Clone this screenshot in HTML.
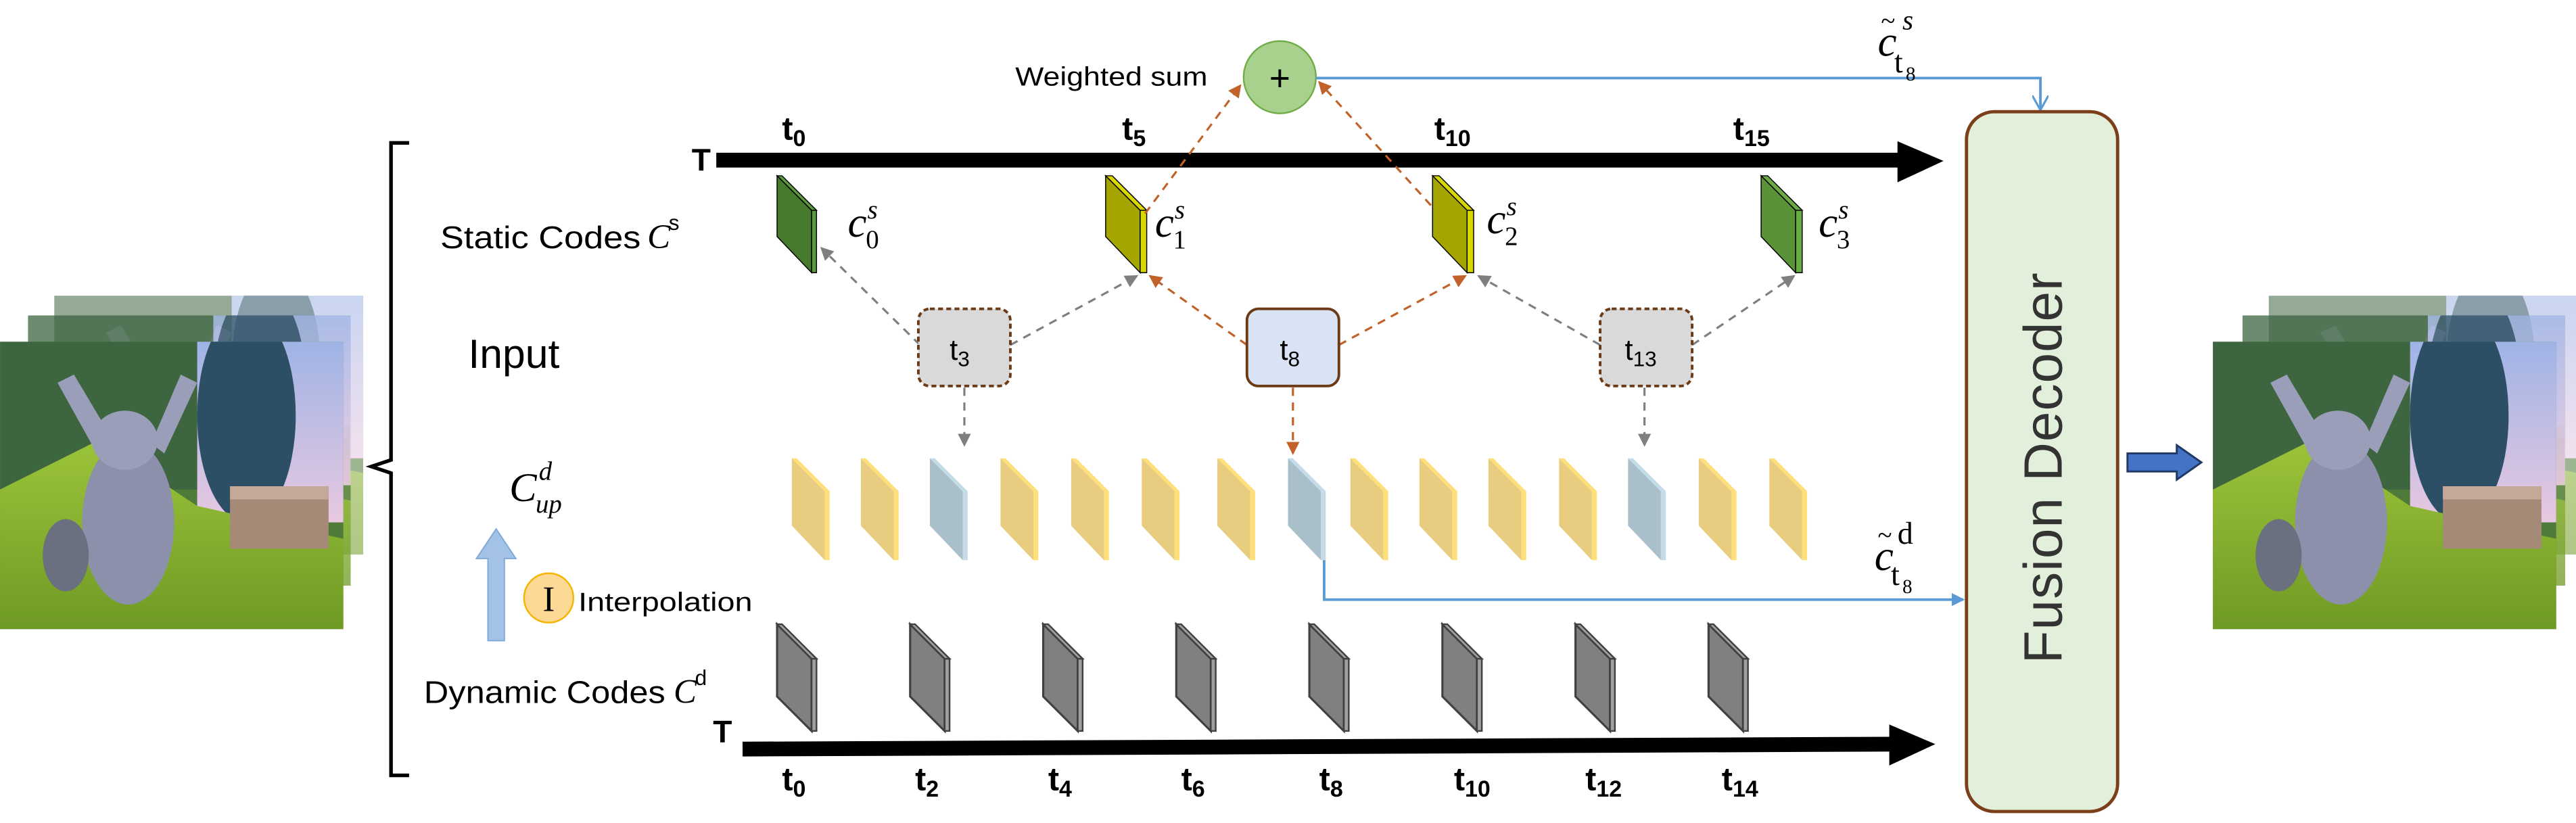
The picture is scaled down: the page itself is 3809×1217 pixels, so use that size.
<!DOCTYPE html>
<html><head><meta charset="utf-8"><style>
html,body{margin:0;padding:0;background:#fff;}
svg{display:block;}
.lab{font-family:"Liberation Sans Narrow","Liberation Sans",sans-serif;fill:#000;}
.tb{font-family:"Liberation Sans Narrow","Liberation Sans",sans-serif;font-weight:bold;fill:#000;}
.m{font-family:"Liberation Serif","DejaVu Serif",serif;fill:#000;}
</style></head><body>
<svg width="3809" height="1217" viewBox="0 0 1568 501" xmlns="http://www.w3.org/2000/svg">
<defs>
<marker id="ag" markerWidth="8" markerHeight="8" refX="7" refY="4" orient="auto" markerUnits="userSpaceOnUse"><path d="M0,0 L8,4 L0,8 z" fill="#7f7f7f"/></marker>
<marker id="ao" markerWidth="8" markerHeight="8" refX="7" refY="4" orient="auto" markerUnits="userSpaceOnUse"><path d="M0,0 L8,4 L0,8 z" fill="#c0622a"/></marker>
<marker id="ab" markerWidth="10" markerHeight="10" refX="9" refY="5" orient="auto" markerUnits="userSpaceOnUse"><path d="M0,0 L9,5 L0,10" fill="none" stroke="#5b9bd5" stroke-width="1.3"/></marker>
<marker id="abf" markerWidth="8" markerHeight="8" refX="7" refY="4" orient="auto" markerUnits="userSpaceOnUse"><path d="M0,0 L8,4 L0,8 z" fill="#5b9bd5"/></marker>
<linearGradient id="sky" x1="0" y1="0" x2="0" y2="1"><stop offset="0" stop-color="#9fb4e6"/><stop offset="1" stop-color="#e8c8e0"/></linearGradient>
<linearGradient id="grass" x1="0" y1="0" x2="0" y2="1"><stop offset="0" stop-color="#9cc43a"/><stop offset="1" stop-color="#6f9a24"/></linearGradient>
<clipPath id="fc"><rect x="0" y="0" width="209" height="175"/></clipPath>
<g id="frame" clip-path="url(#fc)">
<rect width="209" height="175" fill="#4f7a3a"/>
<rect x="120" y="0" width="89" height="110" fill="url(#sky)"/>
<rect x="0" y="0" width="120" height="90" fill="#3d6540"/>
<ellipse cx="150" cy="45" rx="30" ry="65" fill="#2c4f66"/>
<polygon points="0,90 60,60 120,100 209,120 209,175 0,175" fill="url(#grass)"/>
<rect x="140" y="88" width="60" height="38" fill="#a58a78"/>
<rect x="140" y="88" width="60" height="8" fill="#c4a898"/>
<ellipse cx="78" cy="110" rx="28" ry="50" fill="#8c90aa"/>
<ellipse cx="76" cy="60" rx="20" ry="18" fill="#9a9eb8"/>
<path d="M60,70 L35,25 L45,20 L70,62 Z" fill="#9a9eb8"/>
<path d="M92,62 L110,20 L120,25 L100,68 Z" fill="#9a9eb8"/>
<ellipse cx="40" cy="130" rx="14" ry="22" fill="#6a7080"/>
</g>
<g id="cup"><polygon points="0,0 20,20 20,62 0,41" fill="#e8cc80"/><polygon points="20,20 23,20 23,62 20,62" fill="#ffdf7a"/><polygon points="0,0 3,0 23,20 20,20" fill="#ffdf7a"/></g>
<g id="cupb"><polygon points="0,0 20,20 20,62 0,41" fill="#a9c0cb"/><polygon points="20,20 23,20 23,62 20,62" fill="#c5dce8"/><polygon points="0,0 3,0 23,20 20,20" fill="#c5dce8"/></g>
<g id="dyn"><polygon points="0,0 21,21 21,65 0,44" fill="#808080" stroke="#404040" stroke-width="1.3"/><polygon points="21,21 24,21 24,65 21,65" fill="#a0a0a0" stroke="#404040" stroke-width="1"/><polygon points="0,0 3,0 24,21 21,21" fill="#a0a0a0" stroke="#404040" stroke-width="1"/></g>
</defs>

<g opacity="0.55"><use href="#frame" transform="translate(33,180) scale(0.9,0.9)"/></g>
<g opacity="0.75"><use href="#frame" transform="translate(17,192) scale(0.94,0.94)"/></g>
<use href="#frame" x="0" y="208"/>
<g opacity="0.55"><use href="#frame" transform="translate(1381,180) scale(0.9,0.9)"/></g>
<g opacity="0.75"><use href="#frame" transform="translate(1365,192) scale(0.94,0.94)"/></g>
<use href="#frame" x="1347" y="208"/>

<path d="M249,87 L238,87 L238,280 L226,284 L238,288 L238,472 L249,472" fill="none" stroke="#000" stroke-width="2.2"/>

<text class="lab" x="268" y="151" font-size="19" textLength="122" lengthAdjust="spacingAndGlyphs">Static Codes</text>
<text class="m" x="394" y="151" font-size="21" font-style="italic">C</text><text class="lab" x="407" y="140" font-size="13">s</text>
<text class="lab" x="285" y="224" font-size="25">Input</text>
<text class="m" x="310" y="305" font-size="25" font-style="italic">C</text>
<text class="m" x="328" y="292" font-size="16" font-style="italic">d</text>
<text class="m" x="326" y="312" font-size="16" font-style="italic">up</text>
<polygon points="297,390 297,340 290,340 302,322 314,340 307,340 307,390" fill="#a4c2e6" stroke="#7faad8" stroke-width="0.8"/>
<ellipse cx="334" cy="364" rx="15" ry="15" fill="#fdd996" stroke="#f4b400" stroke-width="1"/>
<text class="m" x="334" y="372" font-size="22" text-anchor="middle">I</text>
<text class="lab" x="352" y="372" font-size="16" textLength="106" lengthAdjust="spacingAndGlyphs">Interpolation</text>
<text class="lab" x="258" y="428" font-size="19" textLength="147" lengthAdjust="spacingAndGlyphs">Dynamic Codes</text>
<text class="m" x="410" y="428" font-size="21" font-style="italic">C</text><text class="lab" x="423" y="417" font-size="13">d</text>

<text class="tb" x="421" y="104" font-size="19">T</text>
<line x1="436" y1="97.5" x2="1158" y2="97.5" stroke="#000" stroke-width="9"/>
<polygon points="1155,86 1183,98 1155,111" fill="#000"/>
<g class="tb" font-size="20">
<text x="476" y="85">t<tspan font-size="14" dy="4">0</tspan></text>
<text x="683" y="85">t<tspan font-size="14" dy="4">5</tspan></text>
<text x="873" y="85">t<tspan font-size="14" dy="4">10</tspan></text>
<text x="1055" y="85">t<tspan font-size="14" dy="4">15</tspan></text>
</g>

<g stroke="#000" stroke-width="0.6">
<polygon points="473,107 494,128 494,166 473,144" fill="#467a2c"/><polygon points="494,128 497,128 497,166 494,166" fill="#5a9a3a"/><polygon points="473,107 476,107 497,128 494,128" fill="#5a9a3a"/>
<polygon points="673,107 694,128 694,166 673,144" fill="#a5a500"/><polygon points="694,128 698,128 698,166 694,166" fill="#d8d800"/><polygon points="673,107 677,107 698,128 694,128" fill="#d8d800"/>
<polygon points="872,107 893,128 893,166 872,144" fill="#a5a500"/><polygon points="893,128 897,128 897,166 893,166" fill="#d8d800"/><polygon points="872,107 876,107 897,128 893,128" fill="#d8d800"/>
<polygon points="1072,107 1093,128 1093,166 1072,144" fill="#5a9238"/><polygon points="1093,128 1097,128 1097,166 1093,166" fill="#6aaa44"/><polygon points="1072,107 1076,107 1097,128 1093,128" fill="#6aaa44"/>
</g>
<g class="m">
<text x="516" y="144" font-size="26" font-style="italic">c</text><text x="528" y="133" font-size="16" font-style="italic">s</text><text x="527" y="151" font-size="16">0</text>
<text x="703" y="144" font-size="26" font-style="italic">c</text><text x="715" y="133" font-size="16" font-style="italic">s</text><text x="714" y="151" font-size="16">1</text>
<text x="905" y="142" font-size="26" font-style="italic">c</text><text x="917" y="131" font-size="16" font-style="italic">s</text><text x="916" y="149" font-size="16">2</text>
<text x="1107" y="144" font-size="26" font-style="italic">c</text><text x="1119" y="133" font-size="16" font-style="italic">s</text><text x="1118" y="151" font-size="16">3</text>
</g>

<g fill="none" stroke-width="1.3" stroke-dasharray="5,4">
<line x1="560" y1="210" x2="500" y2="151" stroke="#7f7f7f" marker-end="url(#ag)"/>
<line x1="615" y1="210" x2="692" y2="168" stroke="#7f7f7f" marker-end="url(#ag)"/>
<line x1="759" y1="210" x2="700" y2="168" stroke="#c0622a" marker-end="url(#ao)"/>
<line x1="815" y1="210" x2="892" y2="168" stroke="#c0622a" marker-end="url(#ao)"/>
<line x1="974" y1="210" x2="900" y2="168" stroke="#7f7f7f" marker-end="url(#ag)"/>
<line x1="1030" y1="210" x2="1092" y2="168" stroke="#7f7f7f" marker-end="url(#ag)"/>
<line x1="697" y1="130" x2="755" y2="52" stroke="#c0622a" marker-end="url(#ao)"/>
<line x1="871" y1="125" x2="803" y2="50" stroke="#c0622a" marker-end="url(#ao)"/>
<line x1="587" y1="236" x2="587" y2="271" stroke="#7f7f7f" marker-end="url(#ag)"/>
<line x1="787" y1="236" x2="787" y2="276" stroke="#c0622a" marker-end="url(#ao)"/>
<line x1="1001" y1="236" x2="1001" y2="271" stroke="#7f7f7f" marker-end="url(#ag)"/>
</g>

<rect x="559" y="188" width="56" height="47" rx="7" fill="#d9d9d9" stroke="#6b3a17" stroke-width="1.6" stroke-dasharray="3,2"/>
<rect x="759" y="188" width="56" height="47" rx="7" fill="#dae3f3" stroke="#6b3a17" stroke-width="1.6"/>
<rect x="974" y="188" width="56" height="47" rx="7" fill="#d9d9d9" stroke="#6b3a17" stroke-width="1.6" stroke-dasharray="3,2"/>
<g class="lab" font-size="18">
<text x="578" y="219">t<tspan font-size="13" dy="4">3</tspan></text>
<text x="779" y="219">t<tspan font-size="13" dy="4">8</tspan></text>
<text x="989" y="219">t<tspan font-size="13" dy="4">13</tspan></text>
</g>

<circle cx="779" cy="47" r="22" fill="#a9d18e" stroke="#70ad47" stroke-width="1"/>
<text class="lab" x="779" y="55" font-size="22" text-anchor="middle">+</text>
<text class="lab" x="735" y="52" font-size="16" text-anchor="end" textLength="117" lengthAdjust="spacingAndGlyphs">Weighted sum</text>
<polyline points="801,47.5 1242,47.5 1242,67" fill="none" stroke="#5b9bd5" stroke-width="1.6" marker-end="url(#ab)"/>
<text class="m" x="1143" y="34" font-size="26" font-style="italic">c</text><text class="m" x="1145" y="18" font-size="16">~</text>
<text class="m" x="1158" y="18" font-size="17" font-style="italic">s</text>
<text class="m" x="1153" y="44" font-size="19">t</text><text class="m" x="1160" y="49" font-size="12">8</text>

<use href="#cup" x="482" y="279"/>
<use href="#cup" x="524" y="279"/>
<use href="#cupb" x="566" y="279"/>
<use href="#cup" x="609" y="279"/>
<use href="#cup" x="652" y="279"/>
<use href="#cup" x="695" y="279"/>
<use href="#cup" x="741" y="279"/>
<use href="#cupb" x="784" y="279"/>
<use href="#cup" x="822" y="279"/>
<use href="#cup" x="864" y="279"/>
<use href="#cup" x="906" y="279"/>
<use href="#cup" x="949" y="279"/>
<use href="#cupb" x="991" y="279"/>
<use href="#cup" x="1034" y="279"/>
<use href="#cup" x="1077" y="279"/>
<polyline points="806,341 806,365 1195,365" fill="none" stroke="#5b9bd5" stroke-width="1.6" marker-end="url(#abf)"/>
<text class="m" x="1141" y="347" font-size="26" font-style="italic">c</text><text class="m" x="1143" y="331" font-size="16">~</text>
<text class="m" x="1155" y="331" font-size="19">d</text>
<text class="m" x="1151" y="356" font-size="19">t</text><text class="m" x="1158" y="361" font-size="12">8</text>

<use href="#dyn" x="473" y="380"/>
<use href="#dyn" x="554" y="380"/>
<use href="#dyn" x="635" y="380"/>
<use href="#dyn" x="716" y="380"/>
<use href="#dyn" x="797" y="380"/>
<use href="#dyn" x="878" y="380"/>
<use href="#dyn" x="959" y="380"/>
<use href="#dyn" x="1040" y="380"/>

<text class="tb" x="434" y="452" font-size="19">T</text>
<line x1="452" y1="456" x2="1152" y2="453" stroke="#000" stroke-width="9"/>
<polygon points="1150,441 1178,453 1150,466" fill="#000"/>
<g class="tb" font-size="20">
<text x="476" y="481">t<tspan font-size="14" dy="4">0</tspan></text>
<text x="557" y="481">t<tspan font-size="14" dy="4">2</tspan></text>
<text x="638" y="481">t<tspan font-size="14" dy="4">4</tspan></text>
<text x="719" y="481">t<tspan font-size="14" dy="4">6</tspan></text>
<text x="803" y="481">t<tspan font-size="14" dy="4">8</tspan></text>
<text x="885" y="481">t<tspan font-size="14" dy="4">10</tspan></text>
<text x="965" y="481">t<tspan font-size="14" dy="4">12</tspan></text>
<text x="1048" y="481">t<tspan font-size="14" dy="4">14</tspan></text>
</g>

<rect x="1197" y="68" width="92" height="426" rx="17" fill="#e2efda" stroke="#7b3f1a" stroke-width="2"/>
<text x="0" y="0" transform="translate(1255,285) rotate(-90)" text-anchor="middle" font-family="'Liberation Sans',sans-serif" font-size="33" fill="#333" textLength="238">Fusion Decoder</text>

<polygon points="1295,276 1325,276 1325,271 1340,281.5 1325,292 1325,287 1295,287" fill="#4472c4" stroke="#1f3864" stroke-width="1.2"/>
</svg>
</body></html>
